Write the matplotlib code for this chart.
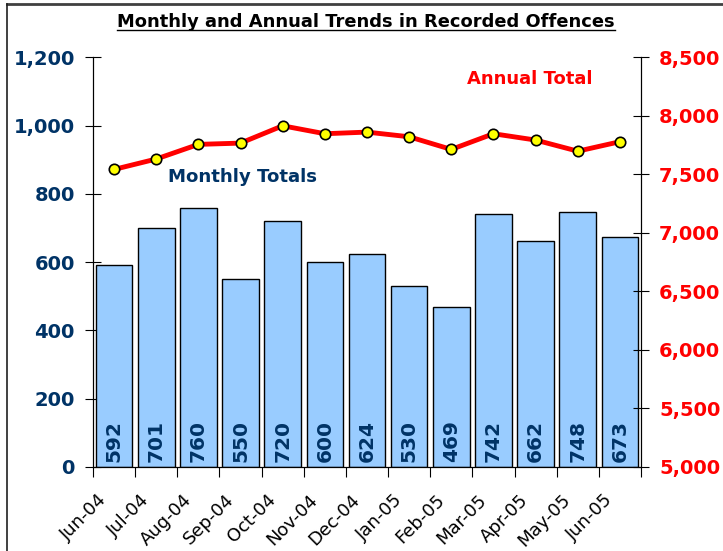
import numpy as np
import matplotlib.pyplot as plt
from matplotlib.lines import Line2D
from matplotlib.transforms import ScaledTranslation

months = ['Jun-04', 'Jul-04', 'Aug-04', 'Sep-04', 'Oct-04', 'Nov-04', 'Dec-04',
          'Jan-05', 'Feb-05', 'Mar-05', 'Apr-05', 'May-05', 'Jun-05']
monthly = [592, 701, 760, 550, 720, 600, 624, 530, 469, 742, 662, 748, 673]
annual = [7542, 7631, 7756, 7767, 7915, 7847, 7861, 7821, 7713, 7847, 7793, 7698, 7779]

navy = '#003366'
plt.rcParams['font.family'] = ['DejaVu Sans']

fig = plt.figure(figsize=(7.23, 5.51), dpi=100)
ax = fig.add_axes([0.1286, 0.1525, 0.758, 0.7435])
ax2 = ax.twinx()

x = np.arange(len(months))
ax.bar(x, monthly, width=0.87, color='#99CCFF', edgecolor='black', linewidth=1, zorder=2)
for xi, v in zip(x, monthly):
    ax.text(xi, 15, str(v), rotation=90, ha='center', va='bottom',
            color=navy, fontsize=14.5, fontweight='bold', zorder=3)

ax.set_xlim(-0.5, len(months) - 0.5)
ax.set_ylim(0, 1200)
ax.set_yticks(range(0, 1201, 200))
ax.set_yticklabels([f'{v:,}' for v in range(0, 1201, 200)], color=navy,
                   fontsize=14, fontweight='bold')
# month labels drawn by hand so they can sit left of the bar centre like the original
ax.set_xticks(np.arange(-0.5, len(months)))
ax.set_xticklabels([])
ax.tick_params(axis='x', length=7, direction='out')
shift = ax.get_xaxis_transform() + ScaledTranslation(-0.16, -0.24, fig.dpi_scale_trans)
for xi, m in zip(x, months):
    ax.text(xi, 0, m, transform=shift, rotation=45, ha='right', va='top',
            rotation_mode='anchor', fontsize=13, clip_on=False)
ax.tick_params(axis='y', direction='inout', length=12, pad=7)

ax2.plot(x, annual, color='#FF0000', linewidth=3.5, marker='o', markersize=7.5,
         markerfacecolor='#FFFF00', markeredgecolor='black', markeredgewidth=1.2, zorder=4)
ax2.set_ylim(5000, 8500)
ax2.set_yticks(range(5000, 8501, 500))
ax2.set_yticklabels([f'{v:,}' for v in range(5000, 8501, 500)], color='#FF0000',
                    fontsize=14, fontweight='bold')
ax2.tick_params(axis='y', direction='inout', length=12, pad=7)

for a in (ax, ax2):
    a.spines['top'].set_visible(False)
ax.set_zorder(ax2.get_zorder() - 1)
ax2.patch.set_visible(False)
ax.patch.set_visible(False)

ax2.text(0.797, 0.947, 'Annual Total', transform=ax.transAxes, ha='center', va='center',
         color='#FF0000', fontsize=13, fontweight='bold')
ax.text(0.272, 0.708, 'Monthly Totals', transform=ax.transAxes, ha='center', va='center',
        color=navy, fontsize=13.1, fontweight='bold')

title = fig.text(0.506, 0.96, 'Monthly and Annual Trends in Recorded Offences',
                 ha='center', va='center', fontsize=12.9, fontweight='bold')
fig.canvas.draw()
bb = title.get_window_extent().transformed(fig.transFigure.inverted())
fig.add_artist(Line2D([bb.x0, bb.x1], [bb.y0 + 0.002, bb.y0 + 0.002], color='black', linewidth=1))

# outer frame
fig.add_artist(Line2D([0.0097, 1.0], [0.993, 0.993], color='#404040', linewidth=2))
fig.add_artist(Line2D([0.0097, 0.0097], [0.0, 0.993], color='#202020', linewidth=1.2))

fig.savefig('out.png', dpi=100)
